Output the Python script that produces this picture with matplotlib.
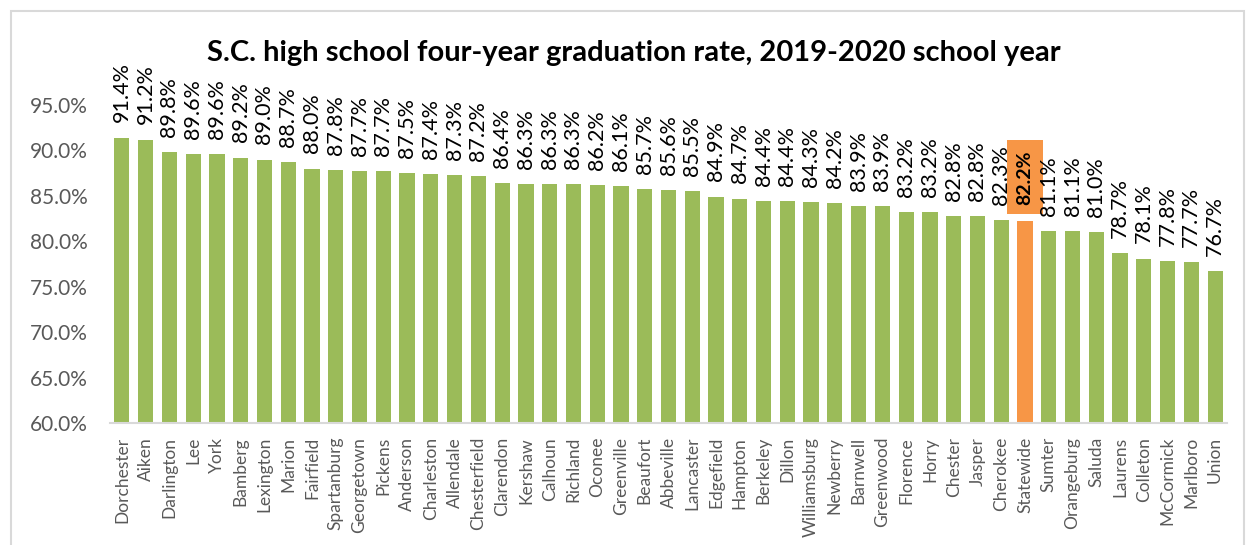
import matplotlib
matplotlib.use("Agg")
import matplotlib.pyplot as plt
from matplotlib.patches import Rectangle

counties = ["Dorchester", "Aiken", "Darlington", "Lee", "York", "Bamberg", "Lexington",
            "Marion", "Fairfield", "Spartanburg", "Georgetown", "Pickens", "Anderson",
            "Charleston", "Allendale", "Chesterfield", "Clarendon", "Kershaw", "Calhoun",
            "Richland", "Oconee", "Greenville", "Beaufort", "Abbeville", "Lancaster",
            "Edgefield", "Hampton", "Berkeley", "Dillon", "Williamsburg", "Newberry",
            "Barnwell", "Greenwood", "Florence", "Horry", "Chester", "Jasper", "Cherokee",
            "Statewide", "Sumter", "Orangeburg", "Saluda", "Laurens", "Colleton",
            "McCormick", "Marlboro", "Union"]
rates = [91.4, 91.2, 89.8, 89.6, 89.6, 89.2, 89.0, 88.7, 88.0, 87.8, 87.7, 87.7, 87.5,
         87.4, 87.3, 87.2, 86.4, 86.3, 86.3, 86.3, 86.2, 86.1, 85.7, 85.6, 85.5,
         84.9, 84.7, 84.4, 84.4, 84.3, 84.2, 83.9, 83.9, 83.2, 83.2, 82.8, 82.8, 82.3,
         82.2, 81.1, 81.1, 81.0, 78.7, 78.1, 77.8, 77.7, 76.7]
yticks = [60, 65, 70, 75, 80, 85, 90, 95]
highlight = "Statewide"

GREEN = "#9BBB59"
ORANGE = "#F79646"
GREY_TXT = "#595959"
GREY_LINE = "#D9D9D9"

plt.rcParams["font.family"] = ["Lato", "DejaVu Sans"]

fig = plt.figure(figsize=(12.48, 5.45), dpi=100)
fig.patches.append(Rectangle((11 / 1248, -0.1), (1244 - 11) / 1248, 1.1 - 11 / 545,
                             transform=fig.transFigure, fill=False,
                             edgecolor=GREY_LINE, linewidth=1.5))

ax = fig.add_axes([110 / 1248, 1 - 423 / 545, (1227 - 110) / 1248, (423 - 105) / 545])

x = list(range(len(counties)))
colors = [ORANGE if c == highlight else GREEN for c in counties]
bars = ax.bar(x, rates, width=0.64, color=colors, zorder=2)

ax.set_xlim(-0.5, len(counties) - 0.5)
ax.set_ylim(60, 95)
ax.set_yticks(yticks)
ax.set_yticklabels([f"{v:.1f}%" for v in yticks], fontsize=15, color=GREY_TXT)
ax.set_xticks(x)
ax.set_xticklabels(counties, rotation=90, fontsize=12.5, color=GREY_TXT)
ax.tick_params(axis="both", length=0)
ax.tick_params(axis="y", pad=16)
ax.tick_params(axis="x", pad=10)

for side in ["top", "right", "left"]:
    ax.spines[side].set_visible(False)
ax.spines["bottom"].set_color(GREY_LINE)
ax.spines["bottom"].set_linewidth(1.5)

for xi, v, c in zip(x, rates, counties):
    if c == highlight:
        ax.annotate(f"{v:.1f}%", (xi, v), xytext=(0, 12), textcoords="offset points",
                    rotation=90, ha="center", va="bottom", fontsize=14,
                    fontweight="bold", color="black", annotation_clip=False,
                    bbox=dict(boxstyle="square,pad=0.5", facecolor=ORANGE,
                              edgecolor="none"))
    else:
        ax.annotate(f"{v:.1f}%", (xi, v), xytext=(0, 11), textcoords="offset points",
                    rotation=90, ha="center", va="bottom", fontsize=15.5,
                    color="black", annotation_clip=False)

fig.text(634 / 1248, 1 - 53 / 545,
         "S.C. high school four-year graduation rate, 2019-2020 school year",
         ha="center", va="center", fontsize=21, fontweight="bold", color="black")

fig.savefig("out.png", dpi=100)
